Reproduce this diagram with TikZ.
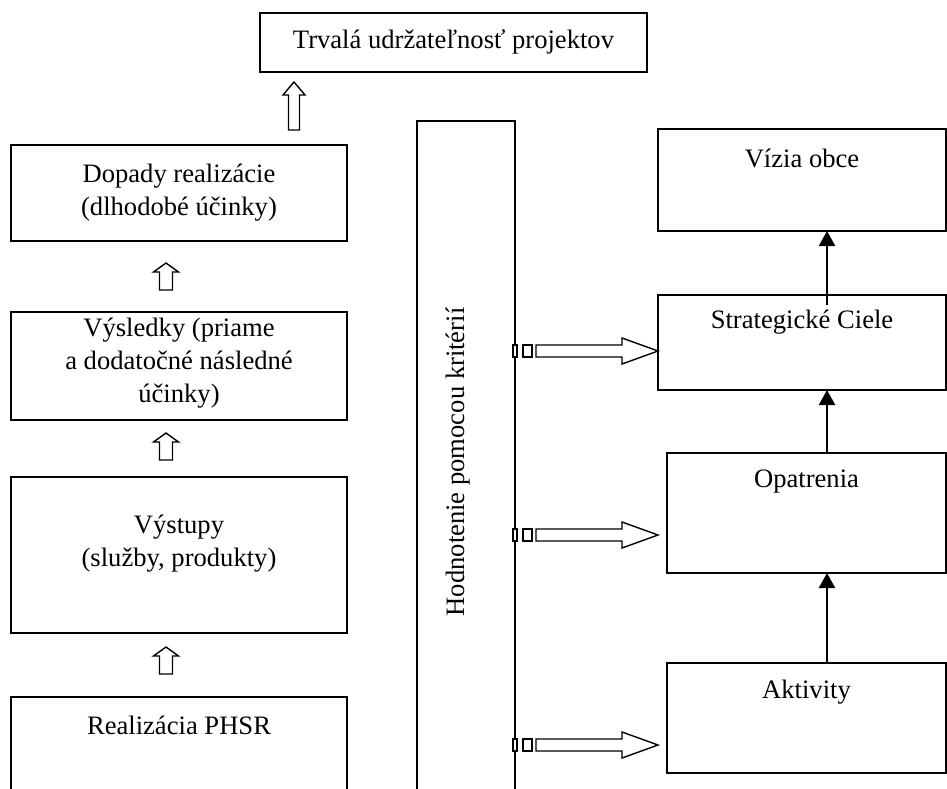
\documentclass[tikz,border=0pt]{standalone}
\usepackage{fontspec}
\setmainfont{Liberation Serif}
\usetikzlibrary{arrows.meta,calc}
\begin{document}
\begin{tikzpicture}[x=1pt,y=-1pt,
  box/.style={draw, line width=1.6pt, inner sep=0pt, outer sep=0pt, anchor=north west},
  lbl/.style={font=\fontsize{26.6}{33}\selectfont, align=center, inner sep=0pt},
  harrow/.style={draw, line width=1.4pt, line join=miter, fill=white},
  conn/.style={line width=2.2pt, -{Triangle[width=16pt,length=15pt]}},
  smallup/.pic={\draw[harrow] (-6.5,0) -- (-6.5,-18) -- (-12.5,-18) -- (0,-27) -- (12.5,-18) -- (6.5,-18) -- (6.5,0) -- cycle;},
  bigup/.pic={\draw[harrow] (-5.5,0) -- (-5.5,-35) -- (-11,-35) -- (0,-48) -- (11,-35) -- (5.5,-35) -- (5.5,0) -- cycle;},
  stripearr/.pic={
    \draw[harrow] (0,-6) rectangle (4,6);
    \draw[harrow] (10,-6) rectangle (19,6);
    \draw[harrow] (23,-6) -- (109,-6) -- (109,-13) -- (145,0) -- (109,13) -- (109,6) -- (23,6) -- cycle;}
]
\clip (0,0) rectangle (947,789);
\fill[white] (0,0) rectangle (947,789);

% left column
\node[box, minimum width=387pt, minimum height=59pt] (top) at (260,13) {};
\node[box, minimum width=336pt, minimum height=96pt] (dop) at (11,145) {};
\node[box, minimum width=336pt, minimum height=108pt] (vys) at (11,312) {};
\node[box, minimum width=336pt, minimum height=156pt] (vyst) at (11,477) {};
\node[box, minimum width=336pt, minimum height=120pt] (real) at (11,697) {};

% middle
\node[box, minimum width=98pt, minimum height=700pt] (mid) at (417,121) {};

% right column
\node[box, minimum width=288pt, minimum height=102pt] (viz) at (658,129) {};
\node[box, minimum width=288pt, minimum height=95pt] (str) at (658,295) {};
\node[box, minimum width=279pt, minimum height=120pt] (opa) at (667,453) {};
\node[box, minimum width=279pt, minimum height=110pt] (akt) at (667,663) {};

% texts
\node[lbl] (ttop) at (453.5,42) {Trvalá udržateľnosť projektov};
\node[lbl] (tdop) at (179,193) {Dopady realizácie\\(dlhodobé účinky)};
\node[lbl] (tvys) at (179,363) {Výsledky (priame\\a dodatočné následné\\účinky)};
\node[lbl] (tvyst) at (179,544) {Výstupy\\(služby, produkty)};
\node[lbl] (treal) at (179,725) {Realizácia PHSR};
\node[lbl, rotate=90] (tmid) at (458,462) {Hodnotenie pomocou kritérií};
\node[lbl] (tviz) at (802,158) {Vízia obce};
\node[lbl] (tstr) at (802,322) {Strategické Ciele};
\node[lbl] (topa) at (806.5,482) {Opatrenia};
\node[lbl] (takt) at (806.5,692) {Aktivity};

% hollow arrows
\pic at (294,130) {bigup};
\pic at (166,290) {smallup};
\pic at (166,460) {smallup};
\pic at (166,674) {smallup};

% striped arrows
\pic at (513,351) {stripearr};
\pic at (513,535) {stripearr};
\pic at (513,745) {stripearr};

% solid arrows
\coordinate (ax) at (827,0);
\draw[conn] ($(str.north -| ax)+(0,10)$) -- (viz.south -| ax);
\draw[conn] (opa.north -| ax) -- (str.south -| ax);
\draw[conn] (akt.north -| ax) -- (opa.south -| ax);
\end{tikzpicture}
\end{document}
